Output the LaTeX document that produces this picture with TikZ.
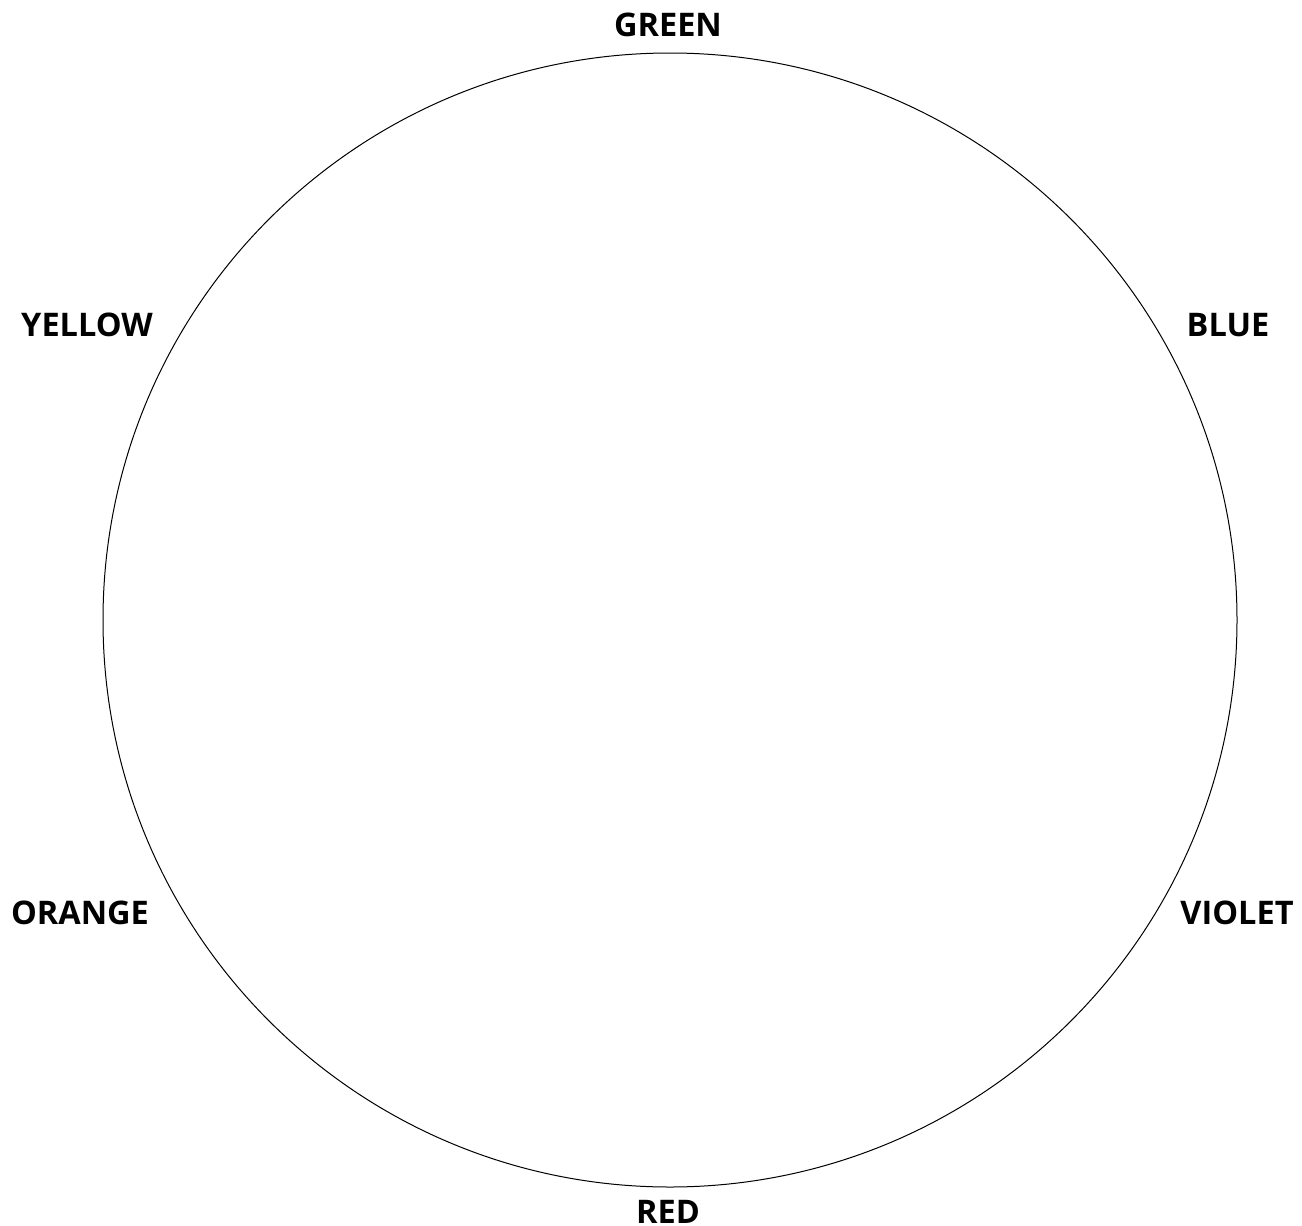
\documentclass[tikz,border=0pt]{standalone}
\usepackage{fontspec}
\setmainfont{Open Sans}
\begin{document}
\begin{tikzpicture}[x=1pt,y=-1pt,
  lbl/.style={font=\fontsize{32.5}{38}\selectfont\bfseries, inner sep=0pt, anchor=center}]
\useasboundingbox (0,0) rectangle (1302,1226);
\node[circle, draw=black, line width=1pt, minimum size=1134pt, inner sep=0pt] (wheel) at (670,620) {};
\node[lbl] (green) at (668,25) {GREEN};
\node[lbl] (yellow) at (87,325) {YELLOW};
\node[lbl] (blue) at (1228,325) {BLUE};
\node[lbl] (orange) at (80,913) {ORANGE};
\node[lbl] (violet) at (1237,913) {VIOLET};
\node[lbl] (red) at (668,1212) {RED};
\end{tikzpicture}
\end{document}
